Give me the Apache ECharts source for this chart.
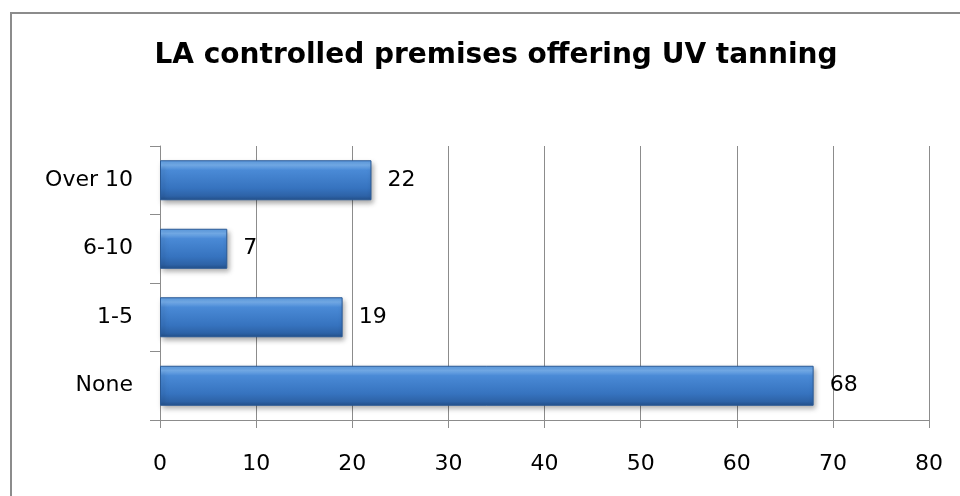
<!DOCTYPE html>
<html>
<head>
<meta charset="utf-8">
<script src="https://cdn.jsdelivr.net/npm/echarts@6/dist/echarts.min.js"></script>
<style>
  html, body { margin: 0; padding: 0; background: #fff; }
  #chart { width: 960px; height: 496px; }
</style>
</head>
<body>
<div id="chart"></div>
<script>
// data
var categories = ['None', '1-5', '6-10', 'Over 10'];
var premises = [68, 19, 7, 22];
var xTicks = [0, 10, 20, 30, 40, 50, 60, 70, 80];

var chart = echarts.init(document.getElementById('chart'));

// bevelled blue look of the bars
var barFill = new echarts.graphic.LinearGradient(0, 0, 0, 1, [
  { offset: 0, color: '#5b9be0' },
  { offset: 0.12, color: '#76b0ef' },
  { offset: 0.25, color: '#4a8ad6' },
  { offset: 0.7, color: '#3673bf' },
  { offset: 0.9, color: '#2d62a6' },
  { offset: 1, color: '#23508a' }
]);

var option = {
  backgroundColor: '#fff',
  animation: false,
  title: {
    text: 'LA controlled premises offering UV tanning',
    left: 491,
    textAlign: 'center',
    top: 37,
    textStyle: {
      fontFamily: 'DejaVu Sans',
      fontWeight: 'bold',
      fontSize: 28,
      color: '#000'
    }
  },
  graphic: [{
    type: 'rect',
    shape: { x: 11, y: 13, width: 970, height: 500 },
    style: { fill: 'none', stroke: '#8c8c8c', lineWidth: 2 },
    silent: true
  }],
  grid: { left: 160, right: 31, top: 146, bottom: 76 },
  xAxis: {
    type: 'value',
    min: xTicks[0],
    max: xTicks[xTicks.length - 1],
    interval: 10,
    axisLine: { show: true, lineStyle: { color: '#8c8c8c', width: 1 } },
    axisTick: { show: true, length: 8, lineStyle: { color: '#8c8c8c' } },
    splitLine: { show: true, lineStyle: { color: '#8c8c8c', width: 1 } },
    axisLabel: {
      margin: 33,
      fontFamily: 'DejaVu Sans',
      fontSize: 22,
      color: '#000'
    }
  },
  yAxis: {
    type: 'category',
    data: categories,
    axisLine: { show: true, lineStyle: { color: '#8c8c8c', width: 1 } },
    axisTick: { show: true, length: 10, lineStyle: { color: '#8c8c8c' } },
    axisLabel: {
      margin: 27,
      fontFamily: 'DejaVu Sans',
      fontSize: 22,
      color: '#000'
    }
  },
  series: [{
    type: 'bar',
    data: premises,
    barWidth: 40,
    itemStyle: {
      color: barFill,
      borderColor: '#2a5a96',
      borderWidth: 1,
      shadowColor: 'rgba(0,0,0,0.35)',
      shadowBlur: 5,
      shadowOffsetX: 2,
      shadowOffsetY: 3
    },
    label: {
      show: true,
      position: 'right',
      distance: 16,
      fontFamily: 'DejaVu Sans',
      fontSize: 22,
      color: '#000'
    }
  }]
};

chart.setOption(option);
</script>
</body>
</html>
